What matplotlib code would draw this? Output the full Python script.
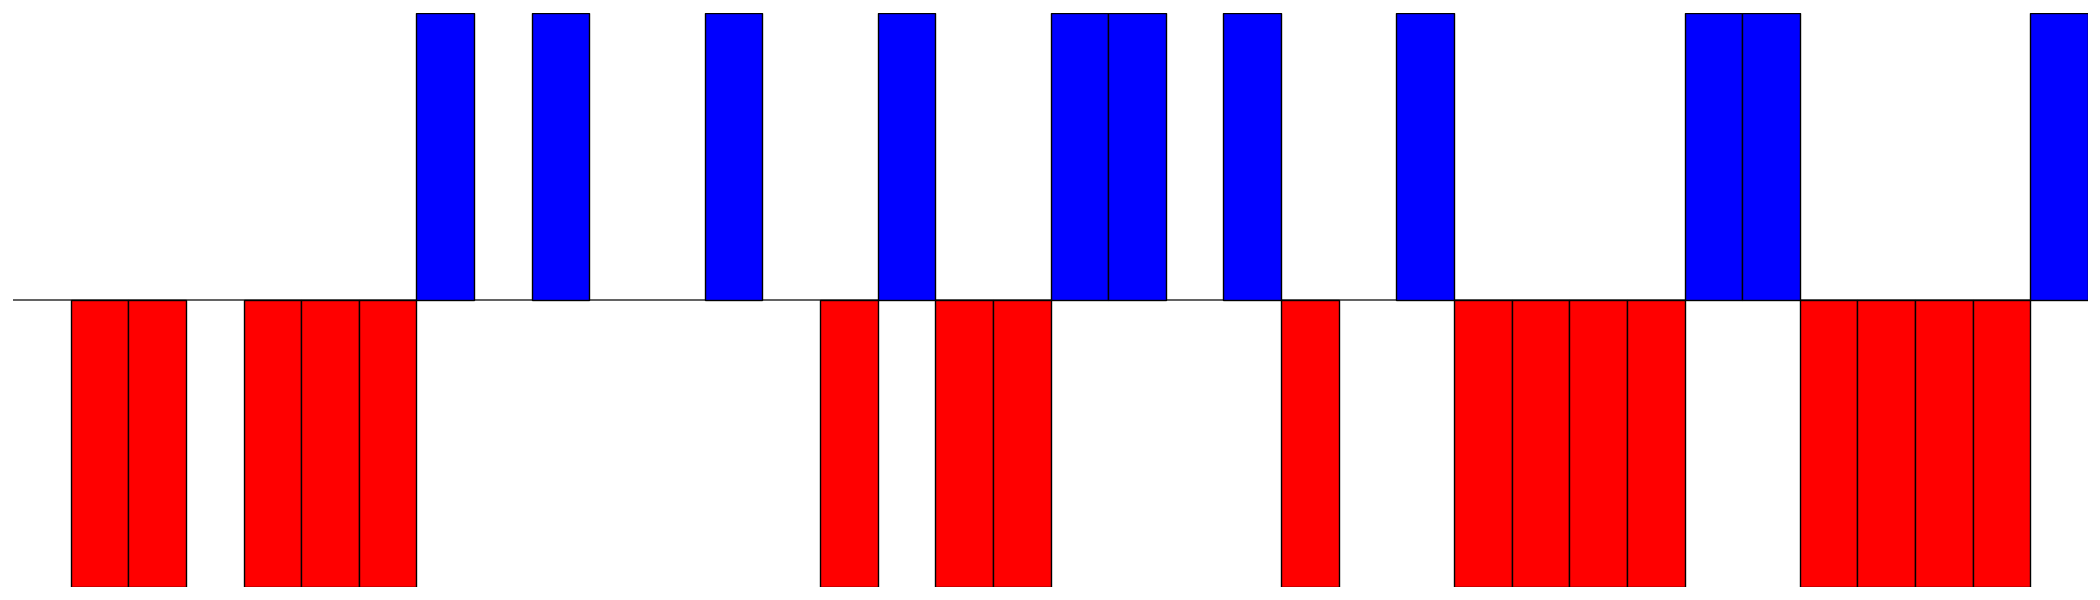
import numpy as np
import matplotlib
matplotlib.use("Agg")
import matplotlib.pyplot as plt

# +1 = blue, -1 = red, 0 = empty slot
values = [0, -1, -1, 0, -1, -1, -1, 1, 0, 1, 0, 0, 1, 0, -1, 1, -1, -1,
          1, 1, 0, 1, -1, 0, 1, -1, -1, -1, -1, 1, 1, -1, -1, -1, -1, 1]

values = np.array(values)
x = np.arange(len(values))
colors = ['blue' if v > 0 else 'red' for v in values]

fig = plt.figure(figsize=(21, 6), dpi=100)
ax = fig.add_axes([13 / 2100, 13 / 600, 2075 / 2100, 574 / 600])
ax.axhline(0, color='#444444', lw=1.2, zorder=1)
mask = values != 0
ax.bar(x[mask], values[mask], width=1, align='edge',
       color=[c for c, m in zip(colors, mask) if m],
       edgecolor='black', linewidth=1.0, zorder=2)
ax.set_xlim(0, len(values))
ax.set_ylim(-1, 1)
ax.axis('off')

fig.savefig("out.png", dpi=100)
